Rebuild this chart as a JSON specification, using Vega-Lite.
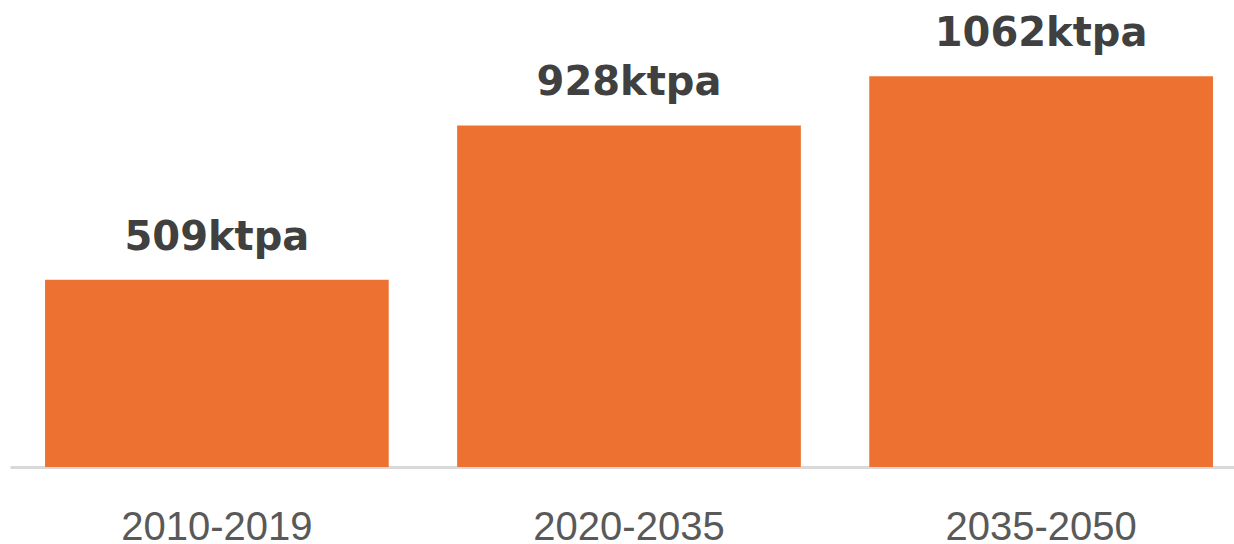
{
  "$schema": "https://vega.github.io/schema/vega-lite/v6.json",
  "autosize": "none",
  "padding": {"left": 10, "top": 0, "right": 0, "bottom": 77},
  "width": 1238,
  "height": 467,
  "background": "white",
  "config": {"view": {"stroke": null}},
  "data": {
    "values": [
      {"period": "2010-2019", "value": 509, "label": "509ktpa"},
      {"period": "2020-2035", "value": 928, "label": "928ktpa"},
      {"period": "2035-2050", "value": 1062, "label": "1062ktpa"}
    ]
  },
  "encoding": {
    "x": {
      "field": "period",
      "type": "nominal",
      "sort": null,
      "scale": {"paddingInner": 0.166, "paddingOuter": 0.085},
      "axis": {
        "title": null,
        "labelAngle": 0,
        "ticks": false,
        "tickSize": 0,
        "domainColor": "#d9d9d9",
        "domainWidth": 3,
        "labelFont": "Liberation Sans",
        "labelFontSize": 40,
        "labelColor": "#595959",
        "labelBaseline": "alphabetic",
        "labelPadding": 72,
        "labelLimit": 0
      }
    },
    "y": {
      "field": "value",
      "type": "quantitative",
      "scale": {"domain": [0, 1269]},
      "axis": null
    }
  },
  "layer": [
    {"mark": {"type": "bar", "color": "#ED7231"}},
    {
      "mark": {
        "type": "text",
        "baseline": "alphabetic",
        "dy": -30,
        "font": "DejaVu Sans",
        "fontWeight": "bold",
        "fontSize": 40,
        "color": "#404040"
      },
      "encoding": {"text": {"field": "label"}}
    }
  ]
}
